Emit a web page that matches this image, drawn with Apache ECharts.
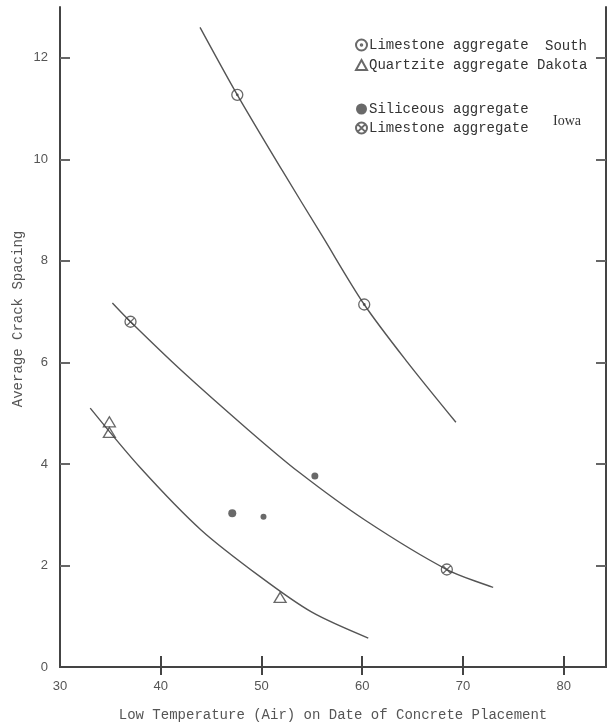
<!DOCTYPE html>
<html>
<head>
<meta charset="utf-8">
<script src="https://cdn.jsdelivr.net/npm/echarts@6/dist/echarts.min.js"></script>
<style>html,body{margin:0;padding:0;background:#fff}#c{width:609px;height:727px}</style>
</head>
<body>
<div id="c"></div>
<script>
// ---- data ----
var xTicks = [30, 40, 50, 60, 70, 80];
var yTicks = [0, 2, 4, 6, 8, 10, 12];
// South Dakota
var sdLimestone = [[47.6, 11.27], [60.2, 7.14]];
var sdQuartzite = [[34.9, 4.83], [34.9, 4.62], [51.85, 1.37]];
// Iowa
var iaSiliceous = [[47.1, 3.03], [50.2, 2.96], [55.3, 3.76]];
var iaSiliceousSize = [8, 6, 7];
var iaLimestone = [[37.0, 6.80], [68.4, 1.92]];
// fitted curves
var curveUpper = [[43.9, 12.6], [47.6, 11.27], [52.0, 9.8], [56.0, 8.5], [60.2, 7.14], [64.5, 6.0], [69.3, 4.82]];
var curveMiddle = [[35.2, 7.17], [37.0, 6.8], [42.0, 5.85], [48.7, 4.67], [53.7, 3.84], [60.3, 2.89], [68.4, 1.92], [73.0, 1.57]];
var curveLower = [[33.0, 5.1], [38.0, 3.92], [44.0, 2.7], [50.0, 1.76], [55.0, 1.08], [60.6, 0.57]];

var C = '#444';
var MONO = '"Liberation Mono", "DejaVu Sans Mono", monospace';
var dotCircle = 'path://M0,10A10,10 0 1,1 20,10A10,10 0 1,1 0,10ZM8.6,10A1.4,1.4 0 1,1 11.4,10A1.4,1.4 0 1,1 8.6,10Z';
var crossCircle = 'path://M0,10A10,10 0 1,1 20,10A10,10 0 1,1 0,10ZM2.9,2.9L17.1,17.1M17.1,2.9L2.9,17.1';
var triangleOpen = 'path://M10,0L20,18L0,18Z';

var chart = echarts.init(document.getElementById('c'));
function curve(d) {
  return {type: 'line', data: d, smooth: 0.3, showSymbol: false, silent: true,
    lineStyle: {color: '#555', width: 1.4}, z: 1};
}
var hollow = {color: 'rgba(255,255,255,0)', borderColor: C, borderWidth: 1.3};
var legendText = {color: '#333', fontSize: 14, fontFamily: MONO, padding: [0, 0, 0, -3]};
function stripName(n) { return n.replace(/ \(.*\)$/, ''); }
chart.setOption({
  animation: false,
  backgroundColor: '#fff',
  grid: {left: 60, right: 3, top: 7, bottom: 60},
  xAxis: [{
    type: 'value', min: 30, max: 84.2, interval: 10,
    axisLine: {lineStyle: {color: C, width: 2}},
    axisTick: {inside: true, length: 11, customValues: [40, 50, 60, 70, 80], lineStyle: {color: C, width: 2}},
    axisLabel: {customValues: xTicks, margin: 13, color: '#555', fontSize: 13, fontFamily: '"Liberation Sans", sans-serif'},
    splitLine: {show: false},
    name: 'Low Temperature (Air) on Date of Concrete Placement',
    nameLocation: 'middle', nameGap: 41,
    nameTextStyle: {color: '#555', fontSize: 14, fontFamily: MONO}
  }, {
    type: 'value', position: 'top', min: 30, max: 84.2, interval: 10,
    axisLine: {lineStyle: {color: C, width: 2}},
    axisTick: {inside: true, length: 8, customValues: [40, 50, 60, 70, 80], lineStyle: {color: C, width: 2}},
    axisLabel: {show: false}, splitLine: {show: false}
  }],
  yAxis: [{
    type: 'value', min: 0, max: 13, interval: 2,
    axisLine: {lineStyle: {color: C, width: 2}},
    axisTick: {inside: true, length: 10, customValues: [2, 4, 6, 8, 10, 12], lineStyle: {color: '#666', width: 2}},
    axisLabel: {customValues: yTicks, margin: 12, color: '#555', fontSize: 13, fontFamily: '"Liberation Sans", sans-serif'},
    splitLine: {show: false}
  }, {
    type: 'value', position: 'right', min: 0, max: 13, interval: 2,
    axisLine: {lineStyle: {color: C, width: 2}},
    axisTick: {inside: true, length: 10, customValues: [2, 4, 6, 8, 10, 12], lineStyle: {color: '#666', width: 2}},
    axisLabel: {show: false}, splitLine: {show: false}
  }],
  legend: [{
    left: 350, top: 33, orient: 'vertical', itemGap: 6, itemWidth: 11, itemHeight: 11,
    selectedMode: false, textStyle: legendText, formatter: stripName,
    data: [{name: 'Limestone aggregate (SD)', icon: dotCircle}, {name: 'Quartzite aggregate', icon: triangleOpen}]
  }, {
    left: 350, top: 97, orient: 'vertical', itemGap: 5, itemWidth: 11, itemHeight: 11,
    selectedMode: false, textStyle: legendText, formatter: stripName,
    data: [{name: 'Siliceous aggregate', icon: 'circle'}, {name: 'Limestone aggregate (Iowa)', icon: crossCircle}]
  }],
  graphic: [
    {type: 'text', left: 545, top: 39, style: {text: 'South', font: '14px ' + MONO, fill: '#333'}},
    {type: 'text', left: 537, top: 58, style: {text: 'Dakota', font: '14px ' + MONO, fill: '#333'}},
    {type: 'text', left: 553, top: 114, style: {text: 'Iowa', font: '14px "Liberation Serif", serif', fill: '#333'}},
    {type: 'text', x: 18, y: 319, rotation: Math.PI / 2,
      style: {text: 'Average Crack Spacing', font: '14px ' + MONO, fill: '#555', align: 'center', verticalAlign: 'middle'}}
  ],
  series: [
    curve(curveUpper), curve(curveMiddle), curve(curveLower),
    {name: 'Limestone aggregate (SD)', type: 'scatter', data: sdLimestone, symbol: dotCircle, symbolSize: 11, itemStyle: hollow, z: 3},
    {name: 'Quartzite aggregate', type: 'scatter', data: sdQuartzite, symbol: triangleOpen, symbolSize: [12, 10], itemStyle: hollow, z: 3},
    {name: 'Siliceous aggregate', type: 'scatter',
      data: iaSiliceous.map(function (p, i) { return {value: p, symbolSize: iaSiliceousSize[i]}; }),
      symbol: 'circle', itemStyle: {color: '#444'}, z: 3},
    {name: 'Limestone aggregate (Iowa)', type: 'scatter', data: iaLimestone, symbol: crossCircle, symbolSize: 11, itemStyle: hollow, z: 3}
  ]
});
</script>
</body>
</html>
